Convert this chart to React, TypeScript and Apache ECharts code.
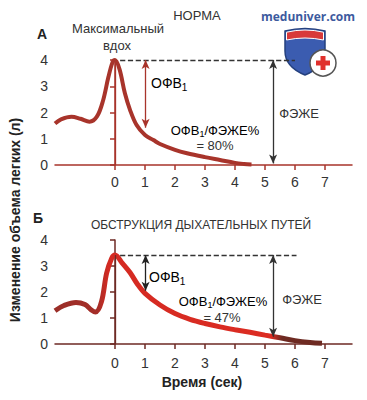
import React, { useEffect, useRef } from "react";
import * as echarts from "echarts";

// Normal spirogram (Норма)
const normTime = [-2, -1.8, -1.45, -1.15, -0.85, -0.6, -0.4, -0.22, -0.08, 0, 0.15, 0.33, 0.5, 0.72, 1, 1.28, 1.5, 2, 2.4, 3, 3.5, 4, 4.3, 4.55];
const normVol = [1.58, 1.74, 1.84, 1.76, 1.65, 1.85, 2.45, 3.35, 3.92, 4.0, 3.65, 2.73, 2.1, 1.52, 1.14, 0.95, 0.8, 0.58, 0.45, 0.3, 0.19, 0.08, 0.04, 0.02];
// Obstruction spirogram (Обструкция дыхательных путей)
const obstTime = [-2, -1.7, -1.3, -1.0, -0.8, -0.65, -0.45, -0.28, -0.11, 0, 0.25, 0.5, 0.75, 1, 1.5, 2, 2.5, 3, 3.5, 4, 4.5, 5, 5.5, 6, 6.5, 6.9];
const obstVol = [1.28, 1.48, 1.6, 1.52, 1.32, 1.23, 1.63, 2.72, 3.3, 3.42, 3.1, 2.75, 2.3, 1.95, 1.5, 1.17, 0.95, 0.79, 0.66, 0.55, 0.45, 0.34, 0.24, 0.13, 0.06, 0.03];

const xTickValues = [0, 1, 2, 3, 4, 5, 6, 7];
const normFVC = 4.0;
const normFEV1End = 1.42;
const obstFVC = 3.42;
const obstFEV1End = 2.05;
const obstFVCEnd = 0.28;
const fvcTime = 5.27;
const fev1Time = 1.02;
const dashEnd = 6.0;

const FONT = "'Liberation Sans', Arial, sans-serif";

const SHIELD = "M0,4 Q20,-1 40,4 L40,24 Q40,40 20,48 Q0,40 0,24 Z";
const BAND = "M1.5,5.2 Q20,0.8 38.5,5.2 L38.5,13 Q20,9 1.5,13 Z";

const richSub = (big: number, small: number) => ({
  n: { fontSize: big, fontFamily: FONT, color: "#333", lineHeight: big + 4 },
  s: { fontSize: small, fontFamily: FONT, color: "#333", lineHeight: small + 2, padding: [big - 5, 0, 0, 0] },
});

const txt = (x: number, y: number, text: string, font: string, fill = "#333", align = "center") => ({
  type: "text",
  x,
  y,
  style: { text, fill, font, align, verticalAlign: "middle" },
});

const subTxt = (x: number, y: number, text: string, big: number, small: number, align = "left") => ({
  type: "text",
  x,
  y,
  style: { text, align, verticalAlign: "middle", rich: richSub(big, small) },
});

export default function App() {
  const ref = useRef<HTMLDivElement>(null);
  useEffect(() => {
    document.body.style.margin = "0";
    echarts.graphic.registerShape("shieldBody", echarts.graphic.extendPath(SHIELD, {}));
    echarts.graphic.registerShape("shieldBand", echarts.graphic.extendPath(BAND, {}));
    const chart = echarts.init(ref.current!, undefined, { renderer: "svg" });

    const mkX = (idx: number, color: string, margin: number) => ({
      type: "value",
      gridIndex: idx,
      min: -2,
      max: 7.9,
      interval: 1,
      axisLine: { show: true, onZero: false, lineStyle: { color, width: 1.5 } },
      axisTick: { show: true, customValues: xTickValues, length: 5, lineStyle: { color, width: 1.5 } },
      axisLabel: { customValues: xTickValues, color: "#333", fontSize: 14, margin, fontFamily: FONT },
      splitLine: { show: false },
    });
    const mkY = (idx: number, color: string) => ({
      type: "value",
      gridIndex: idx,
      min: 0,
      max: 4,
      interval: 1,
      axisLine: { show: true, lineStyle: { color, width: 1.5 } },
      axisTick: { show: true, length: 5, lineStyle: { color, width: 1.5 } },
      axisLabel: { color: "#333", fontSize: 14, margin: 7, fontFamily: FONT },
      splitLine: { show: false },
    });

    const none = "none";
    const seg = (x1: number, y1: number, x2: number, y2: number, color: string, type: string, arrows: boolean) => [
      { coord: [x1, y1], symbol: arrows ? "arrow" : none, symbolSize: [6, 9], lineStyle: { color, type, width: 1.3 } },
      { coord: [x2, y2], symbol: arrows ? "arrow" : none, symbolSize: [6, 9] },
    ];

    const topColor = "#a8342b";
    const botAxis = "#6e2a24";

    chart.setOption({
      animation: false,
      backgroundColor: "#fff",
      grid: [
        { left: 55, top: 60, width: 297, height: 105 },
        { left: 55, top: 240, width: 297, height: 104 },
      ],
      xAxis: [mkX(0, topColor, 10), mkX(1, botAxis, 12)],
      yAxis: [mkY(0, topColor), mkY(1, botAxis)],
      series: [
        {
          type: "line",
          xAxisIndex: 0,
          yAxisIndex: 0,
          data: normTime.map((t, i) => [t, normVol[i]]),
          smooth: 0.35,
          showSymbol: false,
          clip: false,
          lineStyle: { color: topColor, width: 4 },
          z: 3,
          markLine: {
            silent: true,
            animation: false,
            label: { show: false },
            data: [
              seg(0, 0, 0, normFVC, topColor, "solid", false),
              seg(0.17, normFVC, dashEnd, normFVC, "#333", "dashed", false),
              seg(fev1Time, normFVC, fev1Time, normFEV1End, topColor, "solid", true),
              seg(fvcTime, normFVC, fvcTime, 0.06, "#333", "solid", true),
            ],
          },
        },
        {
          type: "line",
          xAxisIndex: 1,
          yAxisIndex: 1,
          data: obstTime.map((t, i) => [t, obstVol[i]]),
          smooth: 0.35,
          showSymbol: false,
          clip: false,
          lineStyle: {
            width: 5,
            color: new echarts.graphic.LinearGradient(0, 0, 1, 0, [
              { offset: 0, color: "#9a2e28" },
              { offset: 0.16, color: "#a52e28" },
              { offset: 0.2, color: "#d42a22" },
              { offset: 0.81, color: "#dc2c22" },
              { offset: 0.85, color: "#6e2a22" },
              { offset: 1, color: "#6e2a22" },
            ]),
          },
          z: 3,
          markLine: {
            silent: true,
            animation: false,
            label: { show: false },
            data: [
              seg(0, 0, 0, obstFVC, botAxis, "solid", false),
              seg(0.17, obstFVC, 6.05, obstFVC, "#333", "dashed", false),
              seg(fev1Time, obstFVC, fev1Time, obstFEV1End, "#222", "solid", true),
              seg(fvcTime, obstFVC, fvcTime, obstFVCEnd, "#333", "solid", true),
            ],
          },
        },
      ],
      graphic: [
        txt(197, 15, "НОРМА", `13px ${FONT}`),
        txt(308, 16, "meduniver.com", `bold 12px 'Open Sans', ${FONT}`, "#3d5a9e"),
        txt(42, 34, "А", `bold 14px ${FONT}`, "#222"),
        txt(118, 28, "Максимальный", `13px ${FONT}`),
        txt(117, 45, "вдох", `13px ${FONT}`),
        subTxt(151, 83, "{n|ОФВ}{s|1}", 14, 10),
        subTxt(215, 130, "{n|ОФВ}{s|1}{n|/ФЭЖЕ%}", 13, 9, "center"),
        txt(215, 145, "= 80%", `13px ${FONT}`),
        txt(299, 113, "ФЭЖЕ", `13px ${FONT}`),
        // Bottom panel
        txt(38, 218, "Б", `bold 14px ${FONT}`, "#222"),
        txt(201, 225, "ОБСТРУКЦИЯ ДЫХАТЕЛЬНЫХ ПУТЕЙ", `12px ${FONT}`),
        subTxt(149, 277, "{n|ОФВ}{s|1}", 14, 10),
        subTxt(223, 301, "{n|ОФВ}{s|1}{n|/ФЭЖЕ%}", 13, 9, "center"),
        txt(222, 317, "= 47%", `13px ${FONT}`),
        txt(302, 299, "ФЭЖЕ", `13px ${FONT}`),
        txt(202, 382, "Время (сек)", `bold 14px ${FONT}`, "#222"),
        {
          type: "text",
          x: 15,
          y: 220,
          rotation: Math.PI / 2,
          style: { text: "Изменение объема легких (л)", fill: "#222", font: `bold 14px ${FONT}`, align: "center", verticalAlign: "middle" },
        },
        // Logo
        {
          type: "group",
          x: 285,
          y: 27,
          children: [
            { type: "shieldBody", shape: {}, style: { fill: "#3b5cb0", stroke: "#24407e", lineWidth: 1.5 } },
            { type: "shieldBand", shape: {}, style: { fill: "#d8393a", stroke: "#fff", lineWidth: 1 } },
            { type: "circle", shape: { cx: 38, cy: 36, r: 13 }, style: { fill: "#fff", stroke: "#555", lineWidth: 1.5 } },
            { type: "rect", shape: { x: 31, y: 33.5, width: 14, height: 5 }, style: { fill: "#e0302c" } },
            { type: "rect", shape: { x: 35.5, y: 29, width: 5, height: 14 }, style: { fill: "#e0302c" } },
          ],
        },
      ],
    });
    return () => chart.dispose();
  }, []);
  return <div ref={ref} style={{ width: 367, height: 400 }} />;
}
